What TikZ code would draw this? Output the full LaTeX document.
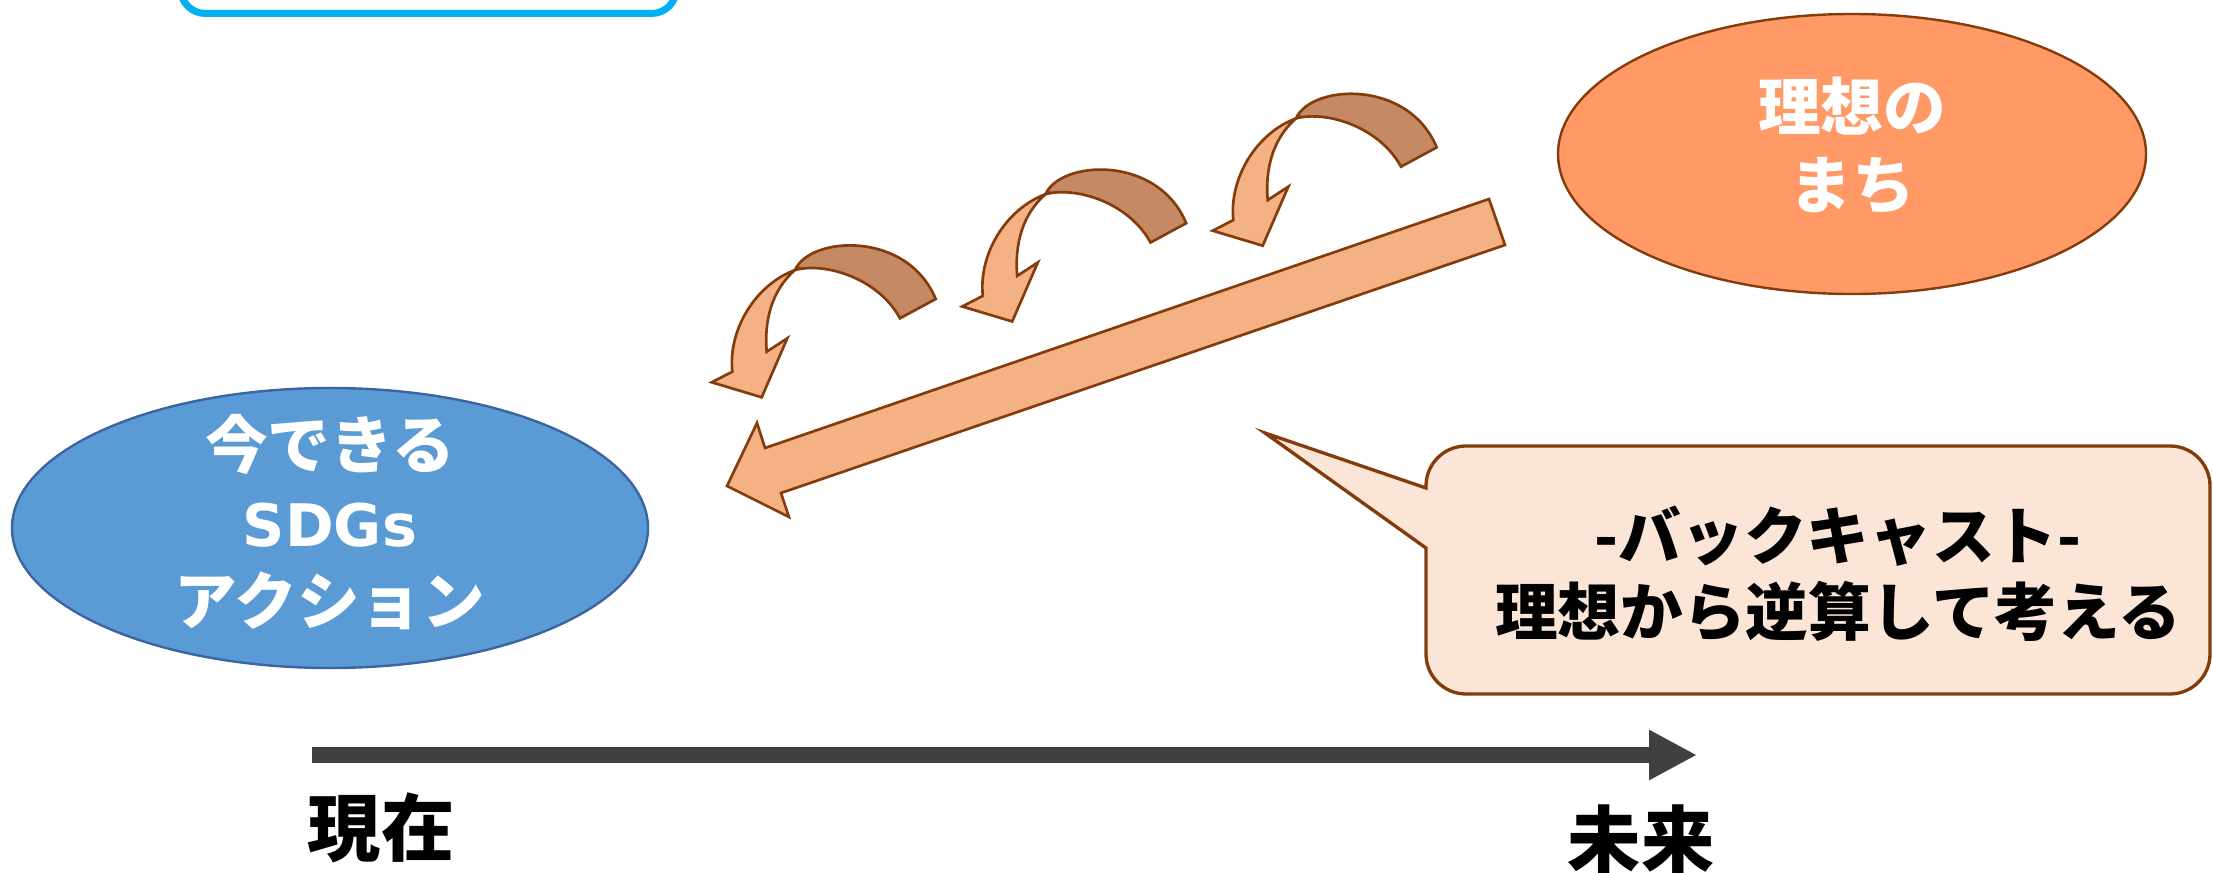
\documentclass[tikz,border=0pt]{standalone}
\usepackage{fontspec}
\newfontfamily\jp{Noto Sans CJK JP}
\newfontfamily\latinwide{DejaVu Sans}
\usetikzlibrary{shapes.geometric,arrows.meta}
\definecolor{brownline}{HTML}{843C0C}
\definecolor{lightorange}{HTML}{F4B183}
\definecolor{darkorange}{HTML}{C58A63}
\definecolor{idealfill}{HTML}{FF9966}
\definecolor{calloutfill}{HTML}{FBE5D6}
\definecolor{sdgfill}{HTML}{5B9BD5}
\definecolor{sdgline}{HTML}{3B64A0}
\definecolor{boxline}{HTML}{00B0F0}
\definecolor{axisgray}{HTML}{404040}
\tikzset{
  bigell/.style={ellipse, draw, line width=1.8pt, inner sep=0pt},
  sdgell/.style={bigell, fill=sdgfill, draw=sdgline, minimum width=477pt, minimum height=210pt},
  idealell/.style={bigell, fill=idealfill, draw=brownline, minimum width=441pt, minimum height=210pt},
  whitetext/.style={text=white, font=\jp\bfseries\fontsize{47}{58.5}\selectfont, align=center, inner sep=0pt},
  blacktext/.style={text=black, font=\jp\bfseries\fontsize{47}{57}\selectfont, align=center, inner sep=0pt},
  axislabel/.style={text=black, font=\jp\bfseries\fontsize{55}{60}\selectfont, inner sep=0pt},
  brownshape/.style={draw=brownline, line width=2pt, line join=miter},
  lightshape/.style={brownshape, fill=lightorange},
  darkshape/.style={brownshape, fill=darkorange},
  calloutshape/.style={draw=brownline, fill=calloutfill, line width=2.5pt, line join=miter},
  topbox/.style={draw=boxline, line width=5.25pt, rounded corners=18.75pt},
  timeaxis/.style={draw=axisgray, line width=12pt, -{Triangle[length=36pt,width=35.25pt]}},
  uturn/.pic={
    \filldraw[darkshape] (0,0) .. controls (15,-34) and (112,-40) .. (140.7,29)
      -- (105,48.3) .. controls (83,8) and (30,-8) .. (0,0) -- cycle;
    \filldraw[lightshape] (0,0) .. controls (-40,15) and (-67,60) .. (-62.7,101.7)
      -- (-83.3,112.3) -- (-33.3,127.3) -- (-7.7,68.3) -- (-28.3,81.7)
      .. controls (-31,50) and (-23,20) .. (0,0) -- cycle;
  }
}
\begin{document}
\begin{tikzpicture}[x=0.75pt,y=-0.75pt]
\useasboundingbox (0,0) rectangle (2213,873);

% top box (cut off)
\draw[topbox] (180.5,-80) rectangle (676.5,13.5);

% ellipses
\node[sdgell] (sdg) at (330,528) {};
\node[whitetext] (sdgtext) at (330,522) {今できる\\{\latinwide\fontsize{44}{58.5}\selectfont SDGs}\\アクション};
\node[idealell] (ideal) at (1852,154) {};
\node[whitetext] (idealtext) at (1852,146) {理想の\\まち};

% big backcast arrow
\filldraw[lightshape] (1489,199) -- (1505,245) -- (781,493) -- (789,517)
  -- (727,486) -- (757,423) -- (765,448) -- cycle;

% curved step arrows
\pic (turnA) at (795,270) {uturn};
\pic (turnB) at (1045.5,194.2) {uturn};
\pic (turnC) at (1296,118.4) {uturn};

% callout
\filldraw[calloutshape] (1426,548) -- (1426,654)
  arc[start angle=180, end angle=90, radius=40] -- (2170,694)
  arc[start angle=90, end angle=0, radius=40] -- (2210,486)
  arc[start angle=0, end angle=-90, radius=40] -- (1466,446)
  arc[start angle=-90, end angle=-180, radius=40] -- (1426,488)
  -- (1265,433) -- cycle;
\node[blacktext] (backcast) at (1838,574) {-バックキャスト-\\理想から逆算して考える};

% time axis
\coordinate (now) at (312,755);
\coordinate (future) at (1697,755);
\draw[timeaxis] (now) -- (future);
\node[axislabel] (nowlabel) at (381,828) {現在};
\node[axislabel] (futurelabel) at (1641,840) {未来};
\end{tikzpicture}
\end{document}
